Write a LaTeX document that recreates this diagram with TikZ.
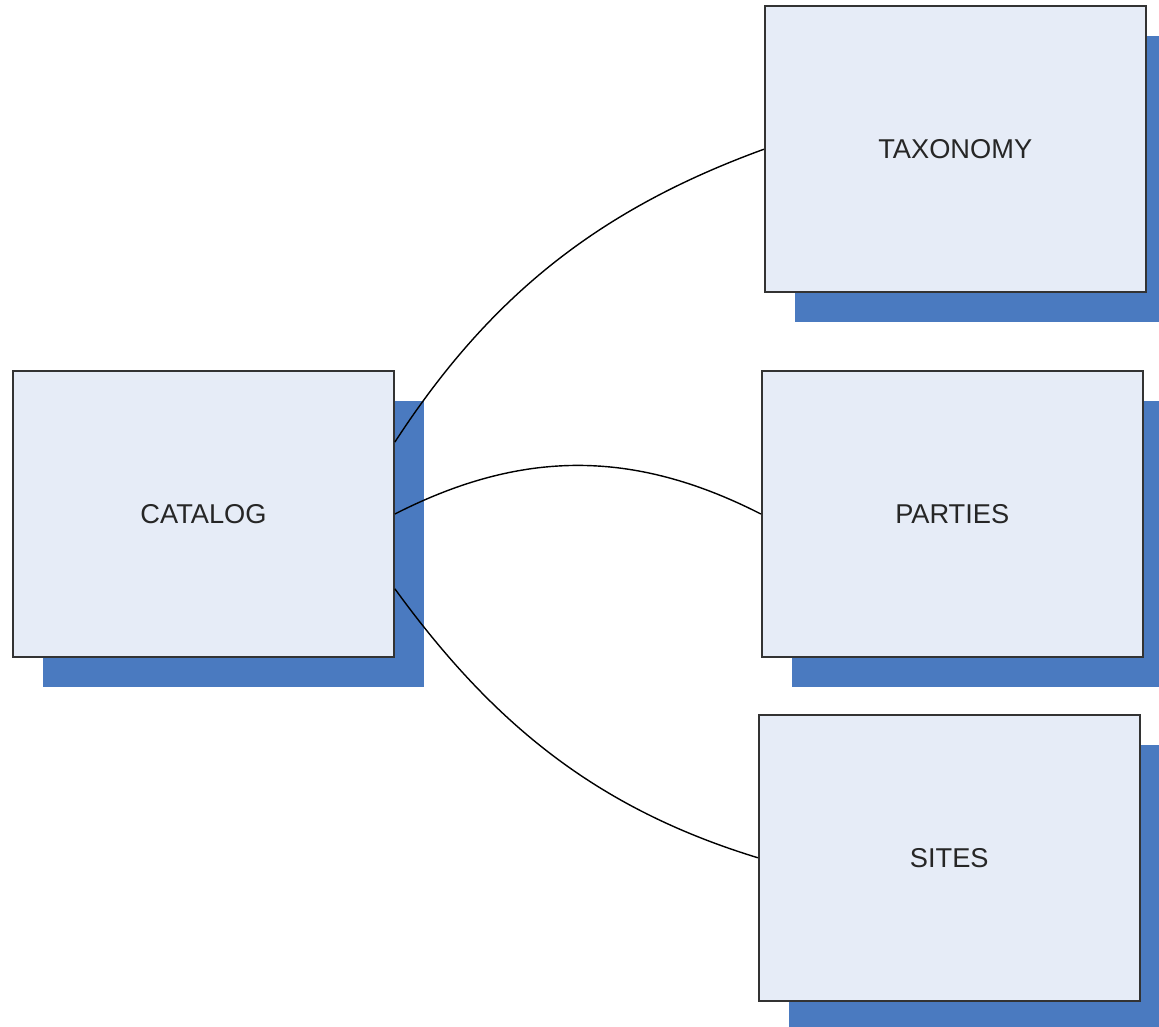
\documentclass[tikz,border=0pt]{standalone}
\usepackage{fontspec}
\setmainfont{Liberation Sans}
\usepackage{tikz}
\usetikzlibrary{shapes.geometric, arrows, calc, positioning, shadows}
\definecolor{boxfill}{RGB}{230,236,247}
\definecolor{shadowblue}{RGB}{74,122,192}
\tikzstyle{block} = [rectangle, line width=1pt, minimum width=7.62cm, minimum height=5.72cm, text centered, draw=black!80, fill=boxfill, text=black!85, font=\fontsize{15.5}{18}\selectfont, drop shadow={shadow xshift=0.6cm, shadow yshift=-0.6cm, fill=shadowblue, opacity=1}]
\tikzstyle{link} = [line width=0.8pt]

\begin{document}
\begin{tikzpicture}[node distance = 10mm, auto]
		
		\clip (0,0) rectangle (23.18,-20.52);
		
		\node (Catalog) [block] at (4.07,-10.28) {CATALOG};
		\node (Parties) [block, right = 7.32cm of Catalog] {PARTIES};
		\node (Taxonomy) [block, above = 1.54cm of Parties, xshift=0.06cm] {TAXONOMY};
		\node (Sites) [block, below = 1.12cm of Parties, xshift=-0.06cm] {SITES};
		
		\path (Catalog.east) -- (Catalog.north east) coordinate[pos=0.5] (Catalog1);
		\path (Catalog.east) -- (Catalog.south east) coordinate[pos=0.52] (Catalog3);
		
		\draw [link] (Catalog1) to[out=57, in=200, looseness=0.95] (Taxonomy.west);
		\draw [link] (Catalog.east) to[out=27, in=153] (Parties.west);
		\draw [link] (Catalog3) to[out=-54, in=163, looseness=0.95] (Sites.west);
		
\end{tikzpicture}
\end{document}
